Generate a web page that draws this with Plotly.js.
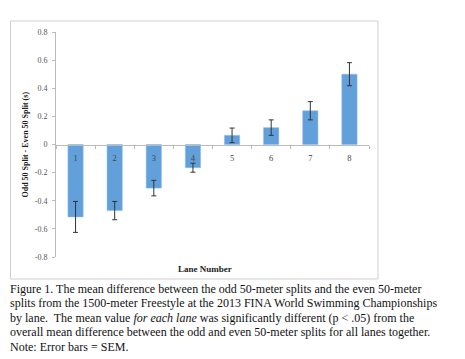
<!DOCTYPE html>
<html><head><meta charset="utf-8">
<script src="https://cdn.plot.ly/plotly-3.0.1.min.js"></script>
<style>html,body{margin:0;padding:0;background:#fff;}</style>
</head><body>
<div id="chart" style="width:465px;height:359px;"></div>
<script>
const lanes = ['1','2','3','4','5','6','7','8'];
const meanDiff = [-0.515, -0.47, -0.31, -0.165, 0.065, 0.12, 0.24, 0.50];
const sem = [0.11, 0.065, 0.055, 0.032, 0.052, 0.055, 0.065, 0.082];
const yTicks = [-0.8, -0.6, -0.4, -0.2, 0, 0.2, 0.4, 0.6, 0.8];
const yTickText = ['-0.8', '-0.6', '-0.4', '-0.2', '0', '0.2', '0.4', '0.6', '0.8'];
const xTitle = 'Lane Number';
const yTitle = 'Odd 50 Split - Even 50 Split (s)';
const captionLines = [
  'Figure 1. The mean difference between the odd 50-meter splits and the even 50-meter',
  'splits from the 1500-meter Freestyle at the 2013 FINA World Swimming Championships',
  'by lane.  The mean value <i>for each lane</i> was significantly different (p &lt; .05) from the',
  'overall mean difference between the odd and even 50-meter splits for all lanes together.',
  'Note: Error bars = SEM.'
];

const serif = 'Liberation Serif, Times New Roman, serif';
const trace = {
  type: 'bar', x: lanes, y: meanDiff,
  marker: {color: '#62a0dc', line: {color: '#8dbbe6', width: 0.5}},
  width: 0.39,
  error_y: {type: 'data', array: sem, visible: true, color: '#333', thickness: 1, width: 2.5},
  hoverinfo: 'none'
};

const annotations = [
  {text: '<b>' + xTitle + '</b>', xref: 'paper', yref: 'paper', x: 0.475, y: -0.055,
   xanchor: 'center', yanchor: 'middle', showarrow: false, font: {family: serif, size: 9, color: '#222'}},
  {text: '<b>' + yTitle + '</b>', xref: 'paper', yref: 'paper', x: -0.099, y: 0.50, textangle: -90,
   xanchor: 'center', yanchor: 'middle', showarrow: false, font: {family: serif, size: 8, color: '#222'}}
];
const capY0 = 288.5, capStep = 14.6;
captionLines.forEach((t, i) => {
  const py = capY0 + i * capStep;
  annotations.push({text: t, xref: 'paper', yref: 'paper',
    x: (8 - 56) / 313, y: (257 - py) / 225, xanchor: 'left', yanchor: 'middle',
    showarrow: false, align: 'left', font: {family: serif, size: 12, color: '#111'}});
});

const layout = {
  width: 465, height: 359,
  margin: {l: 56, r: 96, t: 32, b: 102, pad: 0},
  paper_bgcolor: '#fff', plot_bgcolor: '#fff',
  showlegend: false,
  xaxis: {
    type: 'category', anchor: 'free', position: 0.5,
    showline: true, linecolor: '#bbb', linewidth: 1,
    ticks: 'outside', tickson: 'boundaries', ticklen: 3, tickcolor: '#bbb',
    ticklabelstandoff: 5,
    tickfont: {family: serif, size: 8.5, color: '#444'},
    showgrid: false, zeroline: false, fixedrange: true
  },
  yaxis: {
    range: [-0.8, 0.8], tickvals: yTicks, ticktext: yTickText,
    showline: true, linecolor: '#bbb', linewidth: 1,
    ticks: 'outside', ticklen: 3, tickcolor: '#bbb',
    ticklabelstandoff: 3,
    tickfont: {family: serif, size: 8, color: '#555'},
    showgrid: false, zeroline: false, fixedrange: true
  },
  shapes: [
    {type: 'rect', xref: 'paper', yref: 'paper',
     x0: (10.5 - 56) / 313, x1: (378 - 56) / 313,
     y0: (257 - 279) / 225, y1: (257 - 21) / 225,
     line: {color: '#cfcfcf', width: 1}, fillcolor: 'rgba(0,0,0,0)', layer: 'below'}
  ],
  annotations: annotations
};
Plotly.newPlot('chart', [trace], layout, {displayModeBar: false, staticPlot: true});
</script>
</body></html>
